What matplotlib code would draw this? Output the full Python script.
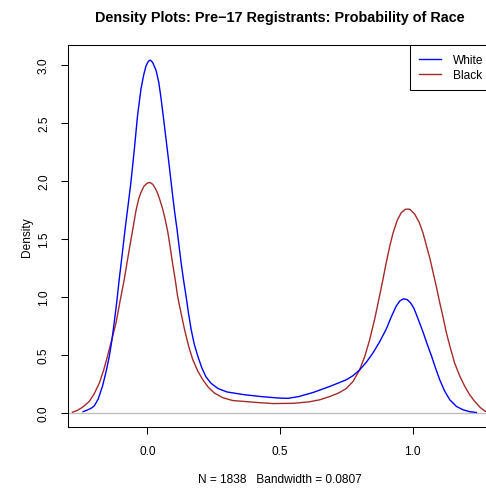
import matplotlib
matplotlib.use("Agg")
import matplotlib.pyplot as plt

plt.rcParams["font.family"] = ["Liberation Sans", "DejaVu Sans"]

# ── Values ───────────────────────────────────────────────────────────────────
white_x = [-0.242, -0.225, -0.210, -0.200, -0.185, -0.169, -0.156, -0.143, -0.134,
           -0.125, -0.115, -0.106, -0.095, -0.084, -0.073, -0.062, -0.049, -0.037,
           -0.024, -0.014, -0.005, 0.004, 0.011, 0.020, 0.033, 0.043, 0.052,
           0.062, 0.072, 0.083, 0.095, 0.103, 0.112, 0.120, 0.127, 0.136, 0.146,
           0.155, 0.165, 0.177, 0.190, 0.205, 0.221, 0.240, 0.266, 0.300, 0.366,
           0.430, 0.498, 0.530, 0.570, 0.624, 0.687, 0.750, 0.775, 0.800, 0.825,
           0.850, 0.875, 0.900, 0.920, 0.938, 0.952, 0.966, 0.980, 0.993, 1.005,
           1.022, 1.040, 1.055, 1.071, 1.087, 1.102, 1.120, 1.140, 1.165, 1.190,
           1.215, 1.240]
white_y = [0.010, 0.025, 0.042, 0.060, 0.120, 0.230, 0.350, 0.490, 0.620,
           0.775, 0.960, 1.150, 1.360, 1.580, 1.780, 1.985, 2.270, 2.560,
           2.790, 2.910, 2.990, 3.030, 3.040, 3.020, 2.950, 2.850, 2.705,
           2.520, 2.330, 2.120, 1.880, 1.730, 1.580, 1.430, 1.300, 1.150, 1.005,
           0.860, 0.720, 0.590, 0.490, 0.390, 0.310, 0.255, 0.210, 0.180, 0.156,
           0.140, 0.127, 0.125, 0.140, 0.175, 0.227, 0.285, 0.320, 0.370, 0.435,
           0.515, 0.610, 0.720, 0.830, 0.920, 0.965, 0.983, 0.975, 0.945, 0.900,
           0.800, 0.690, 0.590, 0.490, 0.380, 0.285, 0.190, 0.112, 0.055, 0.026,
           0.010, 0.003]

black_x = [-0.282, -0.265, -0.250, -0.235, -0.219, -0.200, -0.181, -0.165, -0.150,
           -0.134, -0.118, -0.103, -0.087, -0.071, -0.055, -0.043, -0.033, -0.024,
           -0.012, 0.000, 0.010, 0.020, 0.030, 0.039, 0.048, 0.058, 0.068, 0.077,
           0.086, 0.095, 0.105, 0.114, 0.127, 0.140, 0.155, 0.171, 0.190, 0.209,
           0.230, 0.253, 0.285, 0.322, 0.366, 0.420, 0.473, 0.550, 0.610, 0.649,
           0.687, 0.720, 0.750, 0.775, 0.800, 0.820, 0.838, 0.857, 0.875, 0.888,
           0.900, 0.913, 0.926, 0.942, 0.957, 0.973, 0.989, 1.007, 1.025, 1.039,
           1.052, 1.065, 1.077, 1.090, 1.102, 1.115, 1.127, 1.142, 1.158, 1.177,
           1.196, 1.215, 1.234, 1.255, 1.275, 1.290]
black_y = [0.006, 0.020, 0.040, 0.065, 0.098, 0.165, 0.256, 0.365, 0.490,
           0.630, 0.775, 0.960, 1.150, 1.370, 1.580, 1.740, 1.840, 1.900,
           1.955, 1.980, 1.985, 1.970, 1.935, 1.890, 1.830, 1.755, 1.660, 1.560,
           1.430, 1.290, 1.150, 1.005, 0.860, 0.720, 0.580, 0.460, 0.360, 0.285,
           0.220, 0.170, 0.130, 0.106, 0.098, 0.088, 0.080, 0.082, 0.095, 0.112,
           0.140, 0.170, 0.210, 0.270, 0.370, 0.490, 0.630, 0.810, 1.005, 1.150,
           1.290, 1.430, 1.550, 1.660, 1.725, 1.755, 1.755, 1.715, 1.640, 1.550,
           1.440, 1.330, 1.210, 1.080, 0.950, 0.820, 0.690, 0.560, 0.430, 0.320,
           0.230, 0.155, 0.098, 0.045, 0.011, 0.004]

x_ticks = [0.0, 0.5, 1.0]
x_tick_labels = ["0.0", "0.5", "1.0"]
y_ticks = [0.0, 0.5, 1.0, 1.5, 2.0, 2.5, 3.0]
y_tick_labels = ["0.0", "0.5", "1.0", "1.5", "2.0", "2.5", "3.0"]

TITLE = "Density Plots: Pre\u221217 Registrants: Probability of Race"
X_LABEL = "N = 1838   Bandwidth = 0.0807"

# ── Figure ───────────────────────────────────────────────────────────────────
W, H = 486, 489
fig = plt.figure(figsize=(W / 100, H / 100), dpi=100)
ax = fig.add_axes([68 / W, 1 - 428 / H, 424 / W, 382 / H])

ax.axhline(0, color="#BEBEBE", lw=1.0, zorder=1)
ax.plot(white_x, white_y, color="blue", lw=1.0, label="White", zorder=3)
ax.plot(black_x, black_y, color="brown", lw=1.0, label="Black", zorder=2)

ax.set_xlim(-0.299, 1.299)
ax.set_ylim(-0.122, 3.17)

ax.set_xticks(x_ticks)
ax.set_xticklabels(x_tick_labels)
ax.set_yticks(y_ticks)
ax.set_yticklabels(y_tick_labels, rotation=90, va="center", ha="right")

ax.tick_params(axis="both", direction="out", length=5.0, width=0.75,
               labelsize=8.6, colors="black")
ax.tick_params(axis="x", pad=8.0)
ax.tick_params(axis="y", pad=8.0)

for sp in ax.spines.values():
    sp.set_linewidth(0.75)
    sp.set_color("black")

fig.text(280 / W, 1 - 18 / H, TITLE, ha="center", va="center",
         fontsize=10.4, fontweight="bold")
fig.text(280 / W, 1 - 480 / H, X_LABEL, ha="center", va="center", fontsize=8.6)
fig.text(27 / W, 1 - 237 / H, "Density", ha="center", va="center",
         rotation=90, fontsize=8.6)

leg = ax.legend(loc="upper right", bbox_to_anchor=(1, 1), borderaxespad=0,
                fancybox=False, edgecolor="black", framealpha=1,
                fontsize=8.6, handlelength=1.8, handletextpad=1.0,
                borderpad=0.75, labelspacing=0.25)
leg.get_frame().set_linewidth(0.75)

fig.savefig("out.png", dpi=100)
